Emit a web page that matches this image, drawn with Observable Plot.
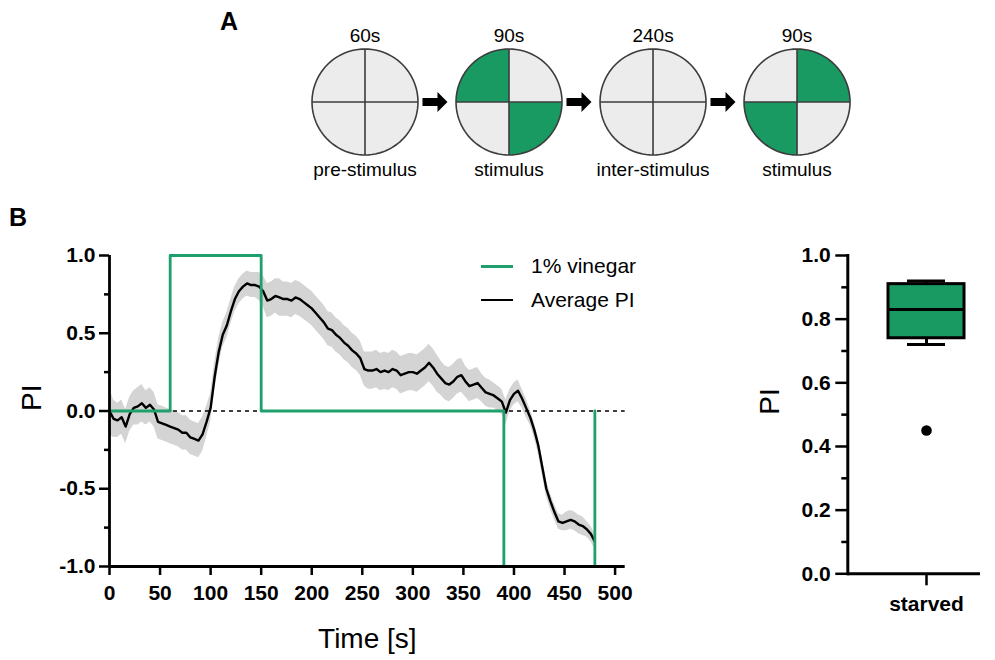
<!DOCTYPE html>
<html><head><meta charset="utf-8">
<script src="https://cdn.jsdelivr.net/npm/d3@7"></script>
<script src="https://cdn.jsdelivr.net/npm/@observablehq/plot@0.6"></script>
<style>
body{margin:0;background:#fff;width:995px;height:660px;position:relative;overflow:hidden;font-family:"Liberation Sans",Arial,sans-serif;color:#000;}
.pl{position:absolute;}
.letter{position:absolute;font-weight:bold;font-size:25px;line-height:28px;}
.lg{position:absolute;font-size:21px;line-height:24px;white-space:nowrap;}
.sw{position:absolute;width:32px;}
</style></head><body>
<div class="letter" style="left:220px;top:7px">A</div>
<div class="letter" style="left:9px;top:203px">B</div>
<div id="a" class="pl" style="left:250px;top:0"></div>
<div id="b" class="pl" style="left:0;top:200px"></div>
<div id="c" class="pl" style="left:740px;top:200px"></div>
<div id="legend"></div>
<script>
// ---------- Panel A data ----------
const stageNames = ["pre-stimulus", "stimulus", "inter-stimulus", "stimulus"];
const stageDurations = ["60s", "90s", "240s", "90s"];
const stimQuadrants = [[], ["TL", "BR"], [], ["TR", "BL"]];

// ---------- Panel B time series ----------
const timeS = d3.range(0, 481, 4);
const meanPI = [
  0.00,-0.05,-0.06,-0.04,-0.10,-0.02,0.02,0.03,0.05,0.02,
  0.04,0.01,-0.07,-0.08,-0.09,-0.10,-0.11,-0.12,-0.14,-0.14,
  -0.17,-0.18,-0.19,-0.15,-0.07,0.02,0.22,0.38,0.49,0.55,
  0.64,0.72,0.77,0.80,0.82,0.81,0.81,0.80,0.77,0.71,
  0.72,0.74,0.73,0.72,0.72,0.71,0.73,0.72,0.70,0.68,
  0.66,0.63,0.60,0.57,0.53,0.52,0.49,0.47,0.44,0.42,
  0.39,0.37,0.34,0.27,0.26,0.26,0.27,0.25,0.26,0.25,
  0.27,0.26,0.23,0.24,0.25,0.25,0.24,0.26,0.28,0.31,
  0.28,0.24,0.21,0.18,0.17,0.19,0.22,0.23,0.19,0.16,
  0.17,0.18,0.15,0.12,0.11,0.10,0.08,0.06,-0.01,0.07,
  0.11,0.13,0.08,0.02,-0.04,-0.12,-0.22,-0.36,-0.50,-0.58,
  -0.65,-0.71,-0.72,-0.71,-0.70,-0.71,-0.73,-0.74,-0.76,-0.79,
  -0.84
];
const semPI = [
  0.15,0.12,0.11,0.11,0.11,0.11,0.11,0.12,0.12,0.11,
  0.11,0.11,0.11,0.11,0.11,0.11,0.11,0.11,0.11,0.11,
  0.11,0.11,0.11,0.11,0.10,0.09,0.09,0.09,0.08,0.08,
  0.08,0.08,0.08,0.08,0.08,0.08,0.08,0.09,0.10,0.11,
  0.11,0.11,0.12,0.11,0.11,0.11,0.11,0.11,0.11,0.11,
  0.11,0.11,0.11,0.11,0.11,0.11,0.11,0.11,0.11,0.11,
  0.11,0.11,0.11,0.11,0.12,0.12,0.12,0.12,0.12,0.12,
  0.12,0.12,0.12,0.12,0.12,0.12,0.12,0.12,0.12,0.12,
  0.12,0.12,0.11,0.11,0.11,0.11,0.11,0.11,0.10,0.10,
  0.10,0.10,0.09,0.09,0.09,0.08,0.08,0.08,0.08,0.07,
  0.07,0.07,0.06,0.06,0.05,0.05,0.05,0.05,0.05,0.05,
  0.05,0.05,0.05,0.06,0.06,0.06,0.06,0.06,0.05,0.05,
  0.05
];
const stimT = [0, 60, 60, 150, 150, 390, 390, 480, 480];
const stimV = [0, 0, 1, 1, 0, 0, -1, -1, 0];
const xTicks = [0, 50, 100, 150, 200, 250, 300, 350, 400, 450, 500];
const yTicksMajor = [-1, -0.5, 0, 0.5, 1];
const yTicksMinor = [-0.75, -0.25, 0.25, 0.75];
const legendLabels = ["1% vinegar", "Average PI"];

// ---------- Box plot ----------
const boxGroups = ["starved"];
const boxQ1 = [0.74], boxMedian = [0.83], boxQ3 = [0.91];
const boxWhiskerLow = [0.72], boxWhiskerHigh = [0.92];
const boxOutliers = [0.45];
const boxTicksMajor = [0, 0.2, 0.4, 0.6, 0.8, 1.0];
const boxTicksMinor = [0.1, 0.3, 0.5, 0.7, 0.9];

const GREEN = "#1a9a63";
const LINE_GREEN = "#1f9f6c";
const fmt = d => d.toFixed(1);
const baseStyle = {fontFamily: "'Liberation Sans', Arial, sans-serif", fontSize: "21px", fontWeight: "bold", color: "black", background: "transparent", overflow: "visible"};

// ---------- Panel A ----------
const R = 0.368;
const quadDefs = [{q: "TR", a0: 0, a1: 90}, {q: "TL", a0: 90, a1: 180}, {q: "BL", a0: 180, a1: 270}, {q: "BR", a0: 270, a1: 360}];
const quadPts = [], ringPts = [];
stageNames.forEach((s, i) => {
  quadDefs.forEach(qd => {
    const id = i + qd.q;
    const fill = stimQuadrants[i].includes(qd.q) ? GREEN : "#ececec";
    quadPts.push({id, fill, x: i, y: 0});
    for (let k = 0; k <= 20; k++) {
      const a = (qd.a0 + (qd.a1 - qd.a0) * k / 20) * Math.PI / 180;
      quadPts.push({id, fill, x: i + R * Math.cos(a), y: R * Math.sin(a)});
    }
  });
  for (let k = 0; k <= 96; k++) {
    const a = k / 96 * 2 * Math.PI;
    ringPts.push({id: i, x: i + R * Math.cos(a), y: R * Math.sin(a)});
  }
});
const idx = stageNames.map((d, i) => i);
const arrowShape = [[-12.5, -4], [2.5, -4], [2.5, -10], [12.5, 0], [2.5, 10], [2.5, 4], [-12.5, 4], [-12.5, -4]];
const arrowPts = [];
idx.slice(0, 3).forEach(i => arrowShape.forEach(([dx, dy]) => arrowPts.push({id: i, x: i + 0.486 + dx / 144, y: dy / 144})));

document.getElementById("a").append(Plot.plot({
  width: 640, height: 190, marginLeft: 0, marginRight: 0, marginTop: 0, marginBottom: 0,
  x: {domain: [-0.795, 3.649], axis: null},
  y: {domain: [-0.615, 0.705], axis: null},
  style: {...baseStyle, fontWeight: "normal", fontSize: "19px"},
  marks: [
    Plot.line(quadPts, {x: "x", y: "y", z: "id", fill: "fill", stroke: null}),
    Plot.link(idx, {x1: i => i - R, x2: i => i + R, y1: 0, y2: 0, stroke: "#3c3c3c", strokeWidth: 1.6}),
    Plot.link(idx, {x1: i => i, x2: i => i, y1: -R, y2: R, stroke: "#3c3c3c", strokeWidth: 1.6}),
    Plot.line(ringPts, {x: "x", y: "y", z: "id", stroke: "#3c3c3c", strokeWidth: 1.6}),
    Plot.line(arrowPts, {x: "x", y: "y", z: "id", fill: "black", stroke: null}),
    Plot.text(idx, {x: i => i, text: i => stageDurations[i], frameAnchor: "top", lineAnchor: "middle", dy: 35, fontSize: 19, fontWeight: "normal"}),
    Plot.text(idx, {x: i => i, text: i => stageNames[i], frameAnchor: "top", lineAnchor: "middle", dy: 169, fontSize: 19, fontWeight: "normal"})
  ]
}));

// ---------- Panel B left ----------
const series = timeS.map((t, i) => ({t, m: meanPI[i], lo: meanPI[i] - semPI[i], hi: meanPI[i] + semPI[i]}));
const stim = stimT.map((t, i) => ({t, v: stimV[i]}));
document.getElementById("b").append(Plot.plot({
  width: 640, height: 460, marginLeft: 109, marginRight: 15.3, marginTop: 55, marginBottom: 94,
  x: {domain: [0, 510], label: null},
  y: {domain: [-1, 1], label: null},
  style: baseStyle,
  marks: [
    Plot.areaY(series, {x: "t", y1: "lo", y2: "hi", fill: "#d4d4d4"}),
    Plot.ruleY([0], {stroke: "black", strokeWidth: 1.3, strokeDasharray: "4,4"}),
    Plot.line(series, {x: "t", y: "m", stroke: "black", strokeWidth: 2.4}),
    Plot.line(stim, {x: "t", y: "v", stroke: LINE_GREEN, strokeWidth: 2.8}),
    Plot.ruleX([0], {stroke: "black", strokeWidth: 2.8}),
    Plot.ruleY([-1], {stroke: "black", strokeWidth: 2.8}),
    Plot.axisY(yTicksMajor, {tickSize: 10, tickPadding: 4, strokeWidth: 2.5, tickFormat: fmt, label: null, fontSize: 21, fontWeight: "bold"}),
    Plot.axisY(yTicksMinor, {tickSize: 5, strokeWidth: 2.5, tickFormat: () => "", label: null}),
    Plot.axisX(xTicks, {tickSize: 9, tickPadding: 10, strokeWidth: 2.5, tickFormat: d => String(d), label: null, fontSize: 21, fontWeight: "bold"}),
    Plot.text(["PI"], {frameAnchor: "left", dx: -77, rotate: -90, fontSize: 28, fontWeight: "normal"}),
    Plot.text(["Time [s]"], {frameAnchor: "bottom", dy: 81, fontSize: 28, fontWeight: "normal"})
  ]
}));

// legend
const lg = document.getElementById("legend");
[[LINE_GREEN, 3, 266], ["black", 1.6, 300]].forEach(([c, w, y], i) => {
  const sw = document.createElement("div");
  sw.className = "sw";
  sw.style.cssText = `left:481px;top:${y - w / 2}px;height:${w}px;background:${c}`;
  lg.append(sw);
  const tx = document.createElement("div");
  tx.className = "lg";
  tx.style.cssText = `left:531px;top:${y - 12}px`;
  tx.textContent = legendLabels[i];
  lg.append(tx);
});

// ---------- Panel B right (box plot) ----------
const boxRows = boxGroups.map((g, i) => ({g, q1: boxQ1[i], med: boxMedian[i], q3: boxQ3[i], wlo: boxWhiskerLow[i], whi: boxWhiskerHigh[i]}));
const outRows = boxOutliers.map(v => ({g: boxGroups[0], v}));
document.getElementById("c").append(Plot.plot({
  width: 255, height: 460, marginLeft: 107.3, marginRight: 15, marginTop: 55, marginBottom: 86.7,
  x: {type: "band", domain: boxGroups, paddingInner: 0, paddingOuter: 0.3696, align: 0.716, label: null},
  y: {domain: [0, 1], label: null},
  style: baseStyle,
  marks: [
    Plot.ruleX(boxRows, {x: "g", y1: "wlo", y2: "q1", stroke: "black", strokeWidth: 3}),
    Plot.ruleX(boxRows, {x: "g", y1: "q3", y2: "whi", stroke: "black", strokeWidth: 3}),
    Plot.tickY(boxRows, {x: "g", y: "wlo", insetLeft: 19, insetRight: 19, stroke: "black", strokeWidth: 3}),
    Plot.tickY(boxRows, {x: "g", y: "whi", insetLeft: 19, insetRight: 19, stroke: "black", strokeWidth: 3}),
    Plot.barY(boxRows, {x: "g", y1: "q1", y2: "q3", fill: GREEN, stroke: "black", strokeWidth: 3}),
    Plot.tickY(boxRows, {x: "g", y: "med", stroke: "black", strokeWidth: 3}),
    Plot.dot(outRows, {x: "g", y: "v", r: 5.3, fill: "black", stroke: null}),
    Plot.frame({anchor: "left", stroke: "black", strokeWidth: 3}),
    Plot.ruleY([0], {stroke: "black", strokeWidth: 3}),
    Plot.axisY(boxTicksMajor, {tickSize: 12, tickPadding: 5, strokeWidth: 2.5, tickFormat: fmt, label: null, fontSize: 21, fontWeight: "bold"}),
    Plot.axisY(boxTicksMinor, {tickSize: 6, strokeWidth: 2.5, tickFormat: () => "", label: null}),
    Plot.axisX(boxGroups, {tickSize: 12, tickPadding: 10, strokeWidth: 2.5, label: null, fontSize: 21, fontWeight: "bold"}),
    Plot.text(["PI"], {frameAnchor: "left", dx: -78, rotate: -90, fontSize: 28, fontWeight: "normal"})
  ]
}));
</script>
</body></html>
